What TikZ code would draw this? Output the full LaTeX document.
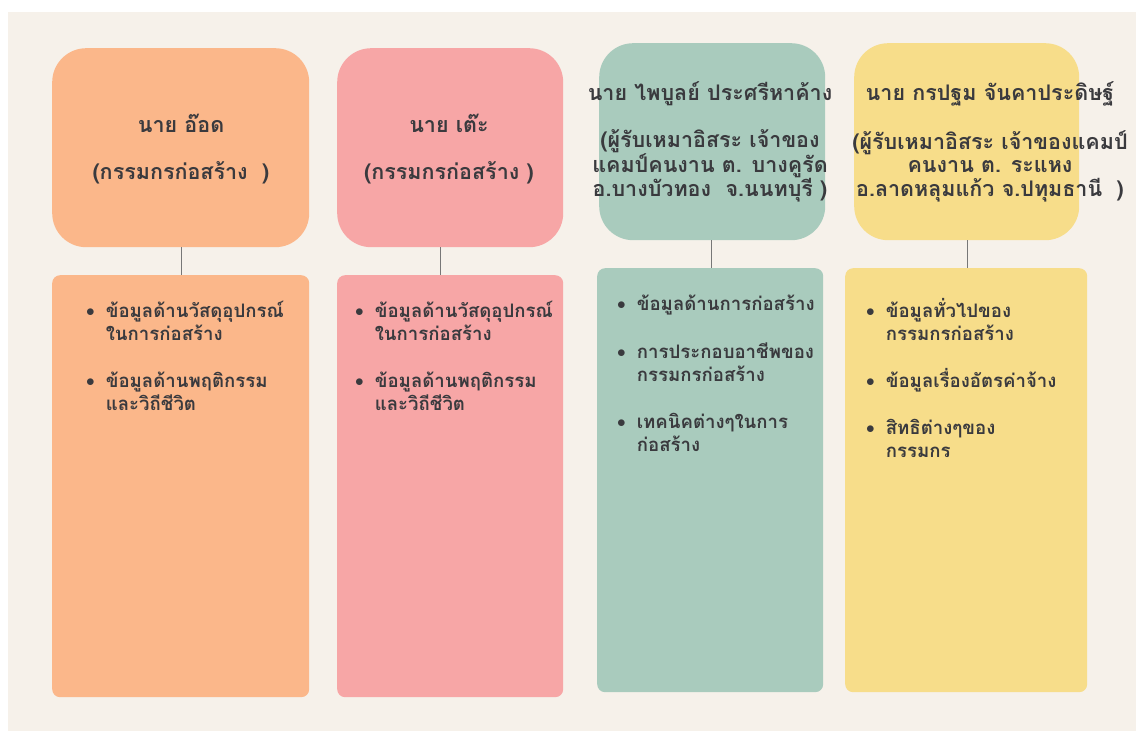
\documentclass[tikz,border=0pt]{standalone}
\usepackage{fontspec}
\newfontfamily\thai[Script=Thai]{Loma}
\definecolor{bg}{HTML}{F6F1EA}
\definecolor{corange}{HTML}{FBB78A}
\definecolor{cpink}{HTML}{F7A6A6}
\definecolor{cgreen}{HTML}{A9CBBD}
\definecolor{cyellow}{HTML}{F7DD8A}
\definecolor{ink}{HTML}{3A3A3E}
\definecolor{wire}{HTML}{777777}
\tikzset{
  headbox/.style={draw=none, rounded corners=34pt, inner sep=0pt, anchor=north west},
  listbox/.style={draw=none, rounded corners=8pt, inner sep=0pt, anchor=north west},
  headtext/.style={text=ink, font=\thai\bfseries\fontsize{21.5}{23.5}\selectfont, align=center, inner sep=0pt},
  listtext/.style={text=ink, font=\thai\bfseries\fontsize{18.6}{23}\selectfont, align=left, inner sep=0pt, anchor=north west},
  wireline/.style={draw=wire, line width=0.9pt}
}
\newcommand{\bul}{\smash{\raisebox{0.5pt}{$\bullet$}}}
\newcommand{\li}[1]{\smash{#1}}
\begin{document}
\begin{tikzpicture}[x=1pt,y=-1pt]
\useasboundingbox (0,0) rectangle (1136,731);
\fill[white] (0,0) rectangle (1136,731);
\fill[bg] (8,12) rectangle (1136,731);
% column 1
\node[headbox, fill=corange, minimum width=257pt, minimum height=199pt] (top1) at (52,48) {};
\node[listbox, fill=corange, minimum width=257pt, minimum height=422pt] (bot1) at (52,275) {};
% column 2
\node[headbox, fill=cpink, minimum width=226pt, minimum height=199pt] (top2) at (337,48) {};
\node[listbox, fill=cpink, minimum width=226pt, minimum height=422pt] (bot2) at (337,275) {};
% column 3
\node[headbox, fill=cgreen, minimum width=226pt, minimum height=197pt] (top3) at (599,43) {};
\node[listbox, fill=cgreen, minimum width=226pt, minimum height=424pt] (bot3) at (597,268) {};
% column 4
\node[headbox, fill=cyellow, minimum width=225pt, minimum height=197pt] (top4) at (854,43) {};
\node[listbox, fill=cyellow, minimum width=242pt, minimum height=424pt] (bot4) at (845,268) {};
% connectors
\coordinate (c1) at (181,0);
\coordinate (c2) at (440,0);
\coordinate (c3) at (711,0);
\coordinate (c4) at (967,0);
\draw[wireline] (top1.south -| c1) -- (bot1.north -| c1);
\draw[wireline] (top2.south -| c2) -- (bot2.north -| c2);
\draw[wireline] (top3.south -| c3) -- (bot3.north -| c3);
\draw[wireline] (top4.south -| c4) -- (bot4.north -| c4);
% titles
\node[headtext] (h1) at (181,149) {นาย อ๊อด\\[23pt](กรรมกรก่อสร้าง~~)};
\node[headtext] (h2) at (449,149) {นาย เต๊ะ\\[23pt](กรรมกรก่อสร้าง )};
\node[headtext] (h3) at (710,142) {นาย ไพบูลย์ ประศรีหาค้าง\\[23pt](ผู้รับเหมาอิสระ เจ้าของ\\แคมป์คนงาน ต. บางคูรัด\\อ.บางบัวทอง~ จ.นนทบุรี )};
\node[headtext] (h4) at (990,142) {นาย กรปฐม จันคาประดิษฐ์\\[23pt](ผู้รับเหมาอิสระ เจ้าของแคมป์\\คนงาน ต. ระแหง\\อ.ลาดหลุมแก้ว จ.ปทุมธานี~~)};
% lists
\node[listtext] (l1) at (86,301) {\begin{tabular}{@{}l@{\hspace{11pt}}l@{}}
\bul & \li{ข้อมูลด้านวัสดุอุปกรณ์}\\ & \li{ในการก่อสร้าง}\\[24pt]
\bul & \li{ข้อมูลด้านพฤติกรรม}\\ & \li{และวิถีชีวิต}\end{tabular}};
\node[listtext] (l2) at (355,301) {\begin{tabular}{@{}l@{\hspace{11pt}}l@{}}
\bul & \li{ข้อมูลด้านวัสดุอุปกรณ์}\\ & \li{ในการก่อสร้าง}\\[24pt]
\bul & \li{ข้อมูลด้านพฤติกรรม}\\ & \li{และวิถีชีวิต}\end{tabular}};
\node[listtext] (l3) at (617,294) {\begin{tabular}{@{}l@{\hspace{11pt}}l@{}}
\bul & \li{ข้อมูลด้านการก่อสร้าง}\\[25pt]
\bul & \li{การประกอบอาชีพของ}\\ & \li{กรรมกรก่อสร้าง}\\[24pt]
\bul & \li{เทคนิคต่างๆในการ}\\ & \li{ก่อสร้าง}\end{tabular}};
\node[listtext] (l4) at (866,301) {\begin{tabular}{@{}l@{\hspace{11pt}}l@{}}
\bul & \li{ข้อมูลทั่วไปของ}\\ & \li{กรรมกรก่อสร้าง}\\[24pt]
\bul & \li{ข้อมูลเรื่องอัตรค่าจ้าง}\\[24pt]
\bul & \li{สิทธิต่างๆของ}\\ & \li{กรรมกร}\end{tabular}};
\end{tikzpicture}
\end{document}
